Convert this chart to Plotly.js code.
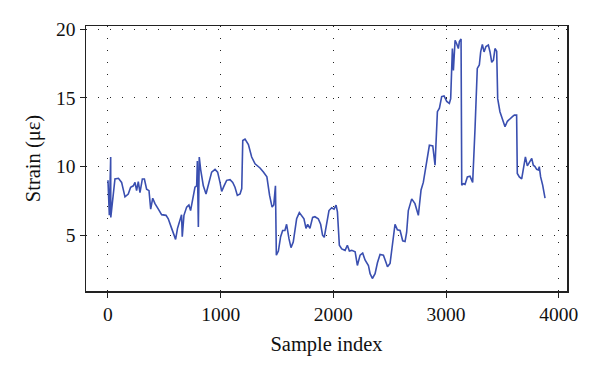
<!DOCTYPE html>
<html>
<head>
<meta charset="utf-8">
<script src="https://cdn.plot.ly/plotly-3.0.1.min.js"></script>
<style>html,body{margin:0;padding:0;background:#fff;}#chart{width:600px;height:377px;}</style>
</head>
<body>
<div id="chart"></div>
<script>
const sampleIndex = [0, 12, 24, 25, 62, 93, 121, 151, 180, 201, 225, 240, 254, 269, 284, 305, 323, 343, 364, 379, 397, 417, 447, 476, 515, 535, 565, 600, 617, 638, 653, 659, 674, 698, 718, 733, 757, 772, 787, 793, 802, 810, 822, 846, 870, 890, 920, 950, 973, 994, 1009, 1030, 1053, 1083, 1107, 1127, 1148, 1172, 1187, 1196, 1216, 1246, 1275, 1305, 1349, 1379, 1410, 1434, 1456, 1471, 1486, 1494, 1512, 1532, 1550, 1570, 1585, 1606, 1624, 1644, 1674, 1698, 1718, 1739, 1757, 1772, 1792, 1816, 1836, 1866, 1887, 1904, 1919, 1940, 1961, 1985, 2006, 2024, 2036, 2053, 2074, 2104, 2124, 2142, 2163, 2193, 2213, 2237, 2260, 2281, 2311, 2326, 2346, 2370, 2391, 2414, 2444, 2468, 2480, 2503, 2524, 2547, 2568, 2592, 2615, 2636, 2650, 2665, 2695, 2724, 2754, 2769, 2778, 2798, 2828, 2852, 2882, 2902, 2923, 2941, 2961, 2982, 3006, 3029, 3041, 3056, 3065, 3080, 3094, 3109, 3118, 3133, 3139, 3153, 3168, 3189, 3212, 3236, 3257, 3277, 3295, 3307, 3322, 3337, 3354, 3375, 3390, 3405, 3420, 3434, 3449, 3458, 3478, 3502, 3523, 3544, 3567, 3591, 3606, 3626, 3632, 3650, 3671, 3686, 3704, 3721, 3739, 3760, 3774, 3789, 3804, 3819, 3827, 3839, 3857, 3878];
const strain = [9.0, 6.45, 10.7, 6.3, 9.1, 9.15, 8.85, 7.8, 8.0, 8.5, 8.6, 8.85, 8.25, 8.9, 8.1, 9.1, 9.1, 8.35, 8.25, 6.9, 7.7, 7.3, 6.9, 6.5, 6.45, 6.2, 5.5, 4.7, 5.5, 6.2, 6.5, 4.9, 6.45, 7.05, 7.2, 6.8, 7.8, 8.5, 8.6, 10.4, 5.6, 10.7, 9.8, 8.6, 8.0, 8.6, 9.6, 9.8, 9.6, 8.85, 8.2, 8.6, 9.0, 9.05, 8.85, 8.5, 7.9, 8.0, 8.4, 11.9, 12.0, 11.6, 10.7, 10.2, 9.9, 9.6, 9.25, 7.9, 7.05, 7.2, 8.6, 3.55, 3.85, 4.9, 5.35, 5.35, 5.8, 4.75, 4.1, 4.5, 6.2, 6.65, 6.45, 6.2, 5.5, 5.8, 5.5, 6.3, 6.35, 6.2, 5.8, 5.0, 4.85, 5.85, 6.8, 7.0, 6.9, 7.2, 6.7, 4.27, 4.0, 3.9, 4.27, 3.85, 3.9, 3.8, 2.8, 3.55, 3.7, 3.2, 2.8, 2.2, 1.85, 2.2, 3.0, 3.6, 3.55, 3.0, 2.7, 2.95, 4.5, 5.8, 5.4, 5.35, 4.6, 4.55, 5.2, 6.8, 7.65, 7.3, 6.45, 7.8, 8.3, 8.85, 10.2, 11.55, 11.5, 10.1, 14.0, 14.25, 15.1, 15.15, 14.75, 14.6, 14.95, 18.6, 17.0, 19.2, 18.95, 18.6, 19.1, 19.3, 8.65, 8.75, 8.7, 9.25, 9.3, 8.85, 12.8, 17.15, 17.4, 18.35, 18.9, 18.35, 18.75, 18.85, 18.35, 17.6, 17.75, 18.6, 18.4, 14.95, 14.0, 13.4, 12.9, 13.3, 13.5, 13.65, 13.75, 13.75, 9.5, 9.25, 9.1, 9.85, 10.7, 10.05, 10.35, 10.6, 10.1, 10.0, 9.8, 9.75, 10.0, 9.25, 8.65, 7.7];
const xTicks = [0, 1000, 2000, 3000, 4000];
const yTicks = [5, 10, 15, 20];

const fam = '"Liberation Serif", "DejaVu Serif", serif';
const tickFont = {family: fam, color: '#111', size: 19.5};
const titleFont = {family: fam, color: '#111', size: 20.5};
const gridStyle = {showgrid: true, gridcolor: '#222', gridwidth: 1, griddash: '1px,11px'};

Plotly.newPlot('chart', [{
  x: sampleIndex, y: strain, type: 'scatter', mode: 'lines',
  line: {color: '#3a4fb0', width: 1.6}
}], {
  width: 600, height: 377,
  margin: {l: 86, r: 33, t: 26, b: 86},
  paper_bgcolor: '#fff', plot_bgcolor: '#fff',
  font: tickFont,
  showlegend: false,
  xaxis: Object.assign({
    range: [-195, 4073], tickvals: xTicks, ticktext: xTicks.map(String),
    ticks: 'outside', ticklen: 5, tickcolor: '#222',
    showline: true, mirror: true, linecolor: '#222', linewidth: 1.5,
    zeroline: false, tickfont: tickFont,
    title: {text: 'Sample index', font: titleFont, standoff: 12}
  }, gridStyle),
  yaxis: Object.assign({
    range: [0.94, 20.24], tickvals: yTicks, ticktext: yTicks.map(String),
    ticks: 'outside', ticklen: 5, tickcolor: '#222',
    showline: true, mirror: true, linecolor: '#222', linewidth: 1.5,
    zeroline: false, tickfont: tickFont,
    title: {text: 'Strain (με)', font: titleFont, standoff: 10}
  }, gridStyle)
}, {staticPlot: true, displayModeBar: false});
</script>
</body>
</html>
